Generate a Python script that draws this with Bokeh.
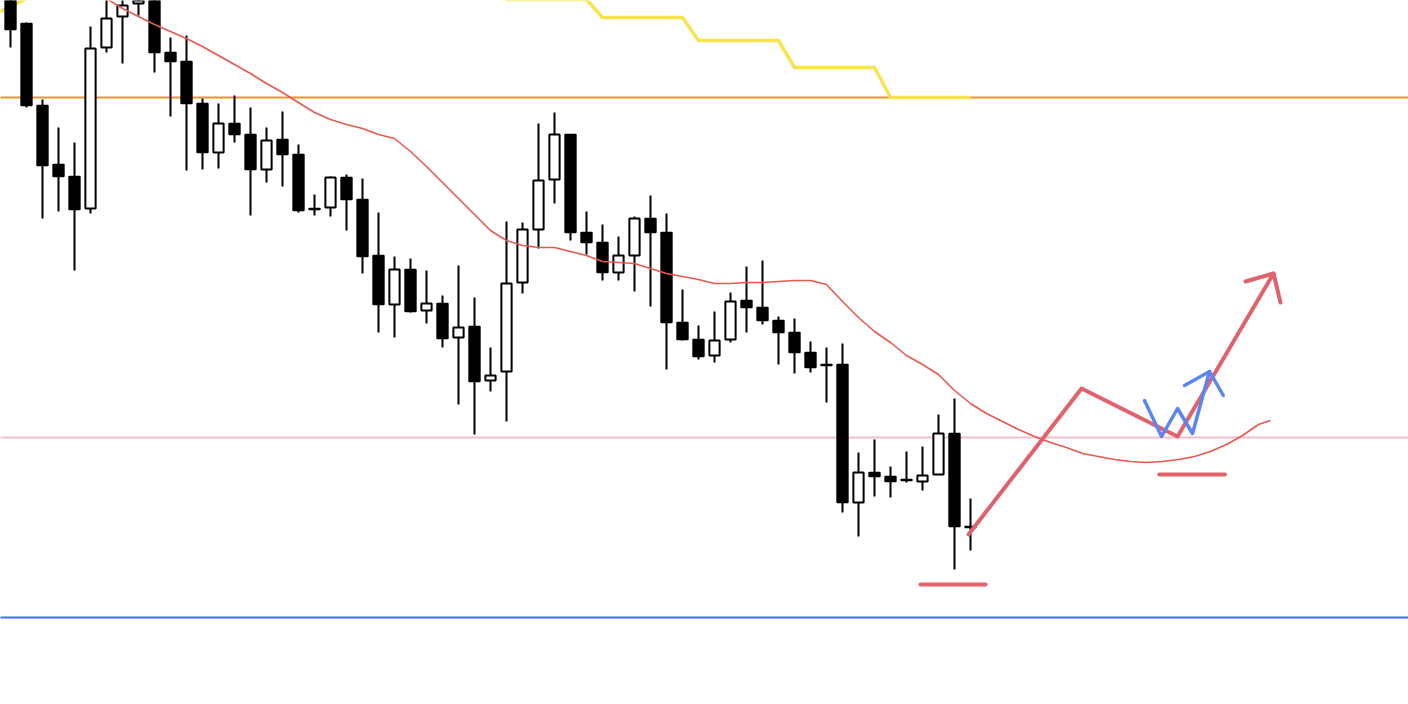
from bokeh.plotting import figure
from bokeh.models import Range1d, ColumnDataSource
from bokeh.embed import file_html
from bokeh.resources import INLINE

# OHLC per bar (price units)
opens = [714, 681, 599, 540, 528, 496, 657, 688, 701, 719, 652, 643, 601, 552, 581, 570,
         535, 565, 550, 496, 497, 527, 505, 449, 400, 435, 394, 401, 367, 378, 324, 333,
         422, 475, 525, 570, 472, 462, 432, 449, 486, 472, 382, 365, 349, 365, 404, 397,
         384, 372, 352, 340, 340, 202, 232, 228, 225, 223, 230, 271, 178]
closes = [675, 599, 539, 528, 495, 656, 686, 699, 707, 652, 643, 601, 552, 581, 570, 535,
          564, 550, 494, 495, 527, 505, 448, 400, 435, 393, 401, 366, 377, 323, 329, 421,
          475, 524, 570, 472, 462, 432, 449, 486, 472, 382, 365, 348, 364, 403, 397, 384,
          372, 352, 337, 339, 202, 232, 228, 223, 224, 229, 271, 178, 177]
highs = [724, 682, 605, 577, 562, 678, 712, 714, 714, 729, 667, 669, 606, 601, 609, 597,
         577, 593, 560, 510, 528, 530, 526, 492, 448, 446, 434, 409, 439, 407, 357, 483,
         482, 581, 592, 570, 493, 480, 468, 488, 509, 491, 415, 379, 393, 412, 438, 444,
         388, 386, 363, 357, 361, 252, 265, 238, 253, 258, 290, 306, 206]
lows = [657, 597, 486, 493, 434, 491, 652, 641, 689, 632, 588, 534, 535, 536, 562, 489,
        522, 518, 492, 489, 488, 474, 431, 372, 367, 392, 381, 357, 300, 270, 313, 283,
        411, 456, 501, 464, 450, 424, 424, 413, 398, 335, 364, 345, 342, 362, 372, 380,
        340, 331, 332, 302, 192, 168, 208, 207, 222, 214, 230, 135, 154]

# moving average, continued past the last bar as a projected curve
ma_x = [4, 5, 6, 7, 8, 9, 10, 11, 12, 13, 14, 15, 16, 17, 18, 19, 20, 21, 22, 23, 24, 25,
        26, 27, 28, 29, 30, 31, 32, 33, 34, 35, 36, 37, 38, 39, 40, 41, 42, 43, 44, 45, 46,
        47, 48, 49, 50, 51, 52, 53, 54, 55, 56, 57, 58, 59, 60, 61, 62, 63, 64, 65, 66, 67,
        68, 69, 70, 71, 72, 73, 74, 75, 76, 77, 78, 78.75]
ma_y = [722, 714, 706, 696, 688, 680, 673, 666, 658, 649, 640, 631, 621, 612, 602, 592,
        585, 580, 576, 570, 566, 553, 538, 522, 506, 490, 474, 464, 459, 457, 457, 453,
        449, 443, 442, 441, 436, 431, 428, 425, 421, 421, 422, 422, 423, 424, 424, 420,
        403, 387, 373, 362, 349, 340, 330, 314, 301, 291, 283, 275, 268, 262, 257, 251,
        248, 245, 243, 242, 243, 245, 248, 253, 260, 269, 280, 284]

# higher-timeframe stepped level
step_x = [-3, 3.4, 7, 12, 13, 18, 19, 24, 25, 30, 31, 36, 37, 42, 43, 48, 49, 54, 55, 60]
step_y = [674, 725, 730, 730, 730, 730, 728, 728, 726, 726, 705, 705, 687, 687,
          664, 664, 637, 637, 607, 607]

# horizontal levels
resistance = 607
support_mid = 267
support_low = 87

# projected path and arrow head
path_x = [59.875, 66.94, 72.94, 78.94]
path_y = [170, 316, 268, 431]
head_x = [77.19, 78.94, 79.375]
head_y = [423, 431, 402]

# short marks under the lows
low_mark_x = [56.875, 60.94]
low_mark_y = [120, 120]
low2_mark_x = [71.8, 75.9]
low2_mark_y = [230, 230]

# small W pattern and its arrow
w_x = [70.875, 71.94, 72.94, 73.875, 74.94]
w_y = [304, 268, 296, 271, 333]
w_head_x = [73.375, 74.94, 75.8]
w_head_y = [319, 333, 309]

p = figure(width=1408, height=704, output_backend="svg", toolbar_location=None,
           x_range=Range1d(-0.625, 87.375), y_range=Range1d(0, 704),
           min_border=0, min_border_left=0, min_border_right=0,
           min_border_top=0, min_border_bottom=0)
p.axis.visible = False
p.grid.visible = False
p.outline_line_color = None
p.background_fill_color = "white"

# horizontal levels
for lvl, col in [(resistance, "#e8962e"), (support_mid, "#f2bdcc"), (support_low, "#3d6ef0")]:
    p.line([-2, 90], [lvl, lvl], line_color=col, line_width=2)

p.line(step_x, step_y, line_color="#f7e34c", line_width=3.5, line_join="round")

idx = list(range(len(opens)))
bull = [c >= o for o, c in zip(opens, closes)]
src_up = ColumnDataSource(dict(
    x=[i for i, b in zip(idx, bull) if b],
    top=[c for c, b in zip(closes, bull) if b],
    bottom=[o for o, b in zip(opens, bull) if b]))
src_dn = ColumnDataSource(dict(
    x=[i for i, b in zip(idx, bull) if not b],
    top=[o for o, b in zip(opens, bull) if not b],
    bottom=[c for c, b in zip(closes, bull) if not b]))

p.segment(x0=idx, y0=lows, x1=idx, y1=highs, line_color="black", line_width=2)
p.vbar(x="x", top="top", bottom="bottom", width=0.64, source=src_up,
       fill_color="white", line_color="black", line_width=2)
p.vbar(x="x", top="top", bottom="bottom", width=0.68, source=src_dn,
       fill_color="black", line_color="black", line_width=1.5)

p.line(ma_x, ma_y, line_color="#e8584e", line_width=1.6)

red = "#e0626c"
p.line(path_x, path_y, line_color=red, line_width=4, line_join="round", line_cap="round")
p.line(head_x, head_y, line_color=red, line_width=4, line_join="round", line_cap="round")
p.line(low_mark_x, low_mark_y, line_color=red, line_width=4, line_cap="round")
p.line(low2_mark_x, low2_mark_y, line_color=red, line_width=4, line_cap="round")

blue = "#5b86f2"
p.line(w_x, w_y, line_color=blue, line_width=3.5, line_join="round", line_cap="round")
p.line(w_head_x, w_head_y, line_color=blue, line_width=3.5, line_join="round", line_cap="round")

open("out.html", "w").write(file_html(p, INLINE))
